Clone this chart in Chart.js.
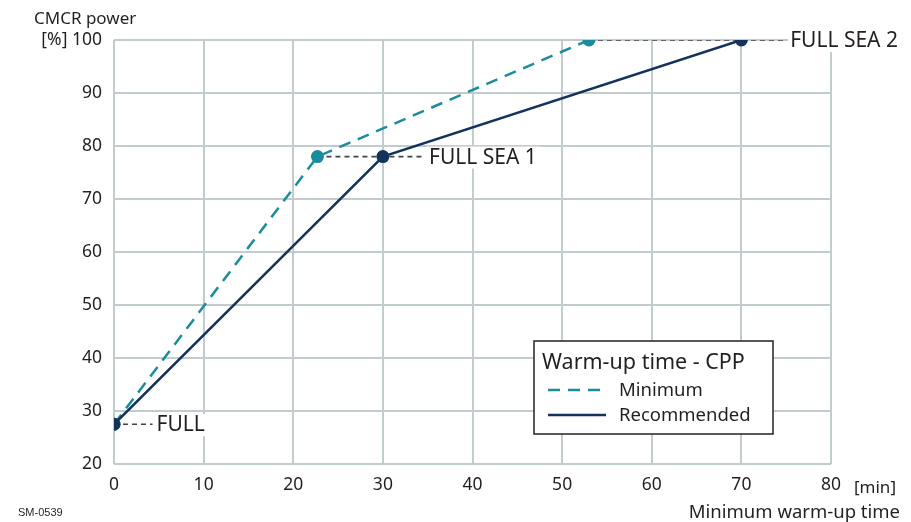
<!DOCTYPE html>
<html>
<head>
<meta charset="utf-8">
<script src="https://cdn.jsdelivr.net/npm/chart.js@4"></script>
<style>
  html, body { margin: 0; padding: 0; background: #fff; }
  #wrap { width: 911px; height: 522px; }
</style>
</head>
<body>
<div id="wrap"><canvas id="chart" width="911" height="522"></canvas></div>
<script>
// values
const power = [27.5, 78, 100];             // CMCR power [%]
const minimumTime = [0, 22.7, 53];         // min
const recommendedTime = [0, 30, 70];       // min
const stageNames = ['FULL', 'FULL SEA 1', 'FULL SEA 2'];
const leaderEnd = [4.3, 34.7, 75];         // where the dotted leader stops
const xTicks = [0, 10, 20, 30, 40, 50, 60, 70, 80];
const yTicks = [20, 30, 40, 50, 60, 70, 80, 90, 100];

const FONT = '"Noto Sans", "Open Sans", sans-serif';
const TEAL = '#1b8c9b';
const NAVY = '#14335c';
const GRID = '#c2cbce';
const TEXT = '#231f20';

const pts = (xs, ys) => xs.map((x, i) => ({ x: x, y: ys[i] }));

// dotted leader from the first point of each stage to the label
const leaders = stageNames.map((name, i) => ({
    label: name,
    data: [{ x: Math.min(minimumTime[i], recommendedTime[i]), y: power[i] }, { x: leaderEnd[i], y: power[i] }],
    borderColor: '#444',
    borderWidth: 1.6,
    borderDash: [5, 4],
    pointRadius: 0,
    leader: true,
    order: 5
}));

const stageLabels = {
    id: 'stageLabels',
    afterDatasetsDraw(chart) {
        const ctx = chart.ctx;
        const xs = chart.scales.x, ys = chart.scales.y;
        ctx.save();
        ctx.font = '21px ' + FONT;
        ctx.textBaseline = 'middle';
        stageNames.forEach((name, i) => {
            const px = xs.getPixelForValue(leaderEnd[i]) + 4;
            const py = ys.getPixelForValue(power[i]);
            const w = ctx.measureText(name).width;
            ctx.fillStyle = '#fff';
            ctx.fillRect(px - 2, py - 10, w + 6, 22);
            ctx.fillStyle = TEXT;
            ctx.fillText(name, px, py + 1);
        });

        // axis captions
        ctx.font = '17px ' + FONT;
        ctx.textBaseline = 'alphabetic';
        ctx.textAlign = 'left';
        ctx.fillText('CMCR power', 34, 24);
        ctx.fillText('[min]', 854, 493);
        ctx.textAlign = 'right';
        ctx.font = '18.5px ' + FONT;
        ctx.fillText('Minimum warm-up time', 900, 518);
        ctx.textAlign = 'left';
        ctx.font = '11px "Liberation Sans", Arial, sans-serif';
        ctx.fillText('SM-0539', 18, 516);

        // legend box
        const bx = 534, by = 341, bw = 239, bh = 93;
        ctx.fillStyle = '#fff';
        ctx.fillRect(bx, by, bw, bh);
        ctx.strokeStyle = '#222';
        ctx.lineWidth = 1.5;
        ctx.strokeRect(bx, by, bw, bh);
        ctx.fillStyle = TEXT;
        ctx.font = '21.5px ' + FONT;
        ctx.fillText('Warm-up time - CPP', bx + 8, by + 28);
        ctx.font = '18.5px ' + FONT;
        const items = chart.data.datasets.filter(d => !d.leader).sort((a, b) => b.order - a.order);
        items.forEach((d, i) => {
            const ly = by + 49 + i * 25;
            ctx.strokeStyle = d.borderColor;
            ctx.lineWidth = 2.5;
            ctx.setLineDash(d.borderDash || []);
            ctx.beginPath();
            ctx.moveTo(bx + 14, ly);
            ctx.lineTo(bx + 72, ly);
            ctx.stroke();
            ctx.setLineDash([]);
            ctx.fillText(d.label, bx + 85, ly + 6);
        });
        ctx.restore();
    }
};

new Chart(document.getElementById('chart'), {
    type: 'line',
    data: {
        datasets: [
            {
                label: 'Recommended',
                data: pts(recommendedTime, power),
                borderColor: NAVY,
                backgroundColor: NAVY,
                borderWidth: 2.5,
                pointRadius: 6.5,
                pointBorderWidth: 0,
                order: 1
            },
            {
                label: 'Minimum',
                data: pts(minimumTime, power),
                borderColor: TEAL,
                backgroundColor: TEAL,
                borderWidth: 2.5,
                borderDash: [12, 8],
                pointRadius: 6.5,
                pointBorderWidth: 0,
                order: 2
            },
            ...leaders
        ].sort((a, b) => (a.leader ? 1 : 0) - (b.leader ? 1 : 0))
    },
    options: {
        responsive: false,
        animation: false,
        layout: { padding: { top: 40, right: 80, left: 0, bottom: 0 } },
        plugins: { legend: { display: false }, tooltip: { enabled: false } },
        scales: {
            x: {
                type: 'linear',
                min: 0, max: 80,
                afterFit(s) { s.height = 58; },
                afterBuildTicks(s) { s.ticks = xTicks.map(v => ({ value: v })); },
                grid: { color: GRID, lineWidth: 2, drawTicks: false },
                border: { display: false },
                ticks: { color: TEXT, padding: 11, font: { family: FONT, size: 17.5 } }
            },
            y: {
                min: 20, max: 100,
                afterFit(s) { s.width = 114; },
                afterBuildTicks(s) { s.ticks = yTicks.map(v => ({ value: v })); },
                grid: { color: GRID, lineWidth: 2, drawTicks: false },
                border: { display: false },
                ticks: {
                    color: TEXT, padding: 12, font: { family: FONT, size: 17.5 },
                    callback: v => v === 100 ? '[%] 100' : v
                }
            }
        }
    },
    plugins: [stageLabels]
});
</script>
</body>
</html>
